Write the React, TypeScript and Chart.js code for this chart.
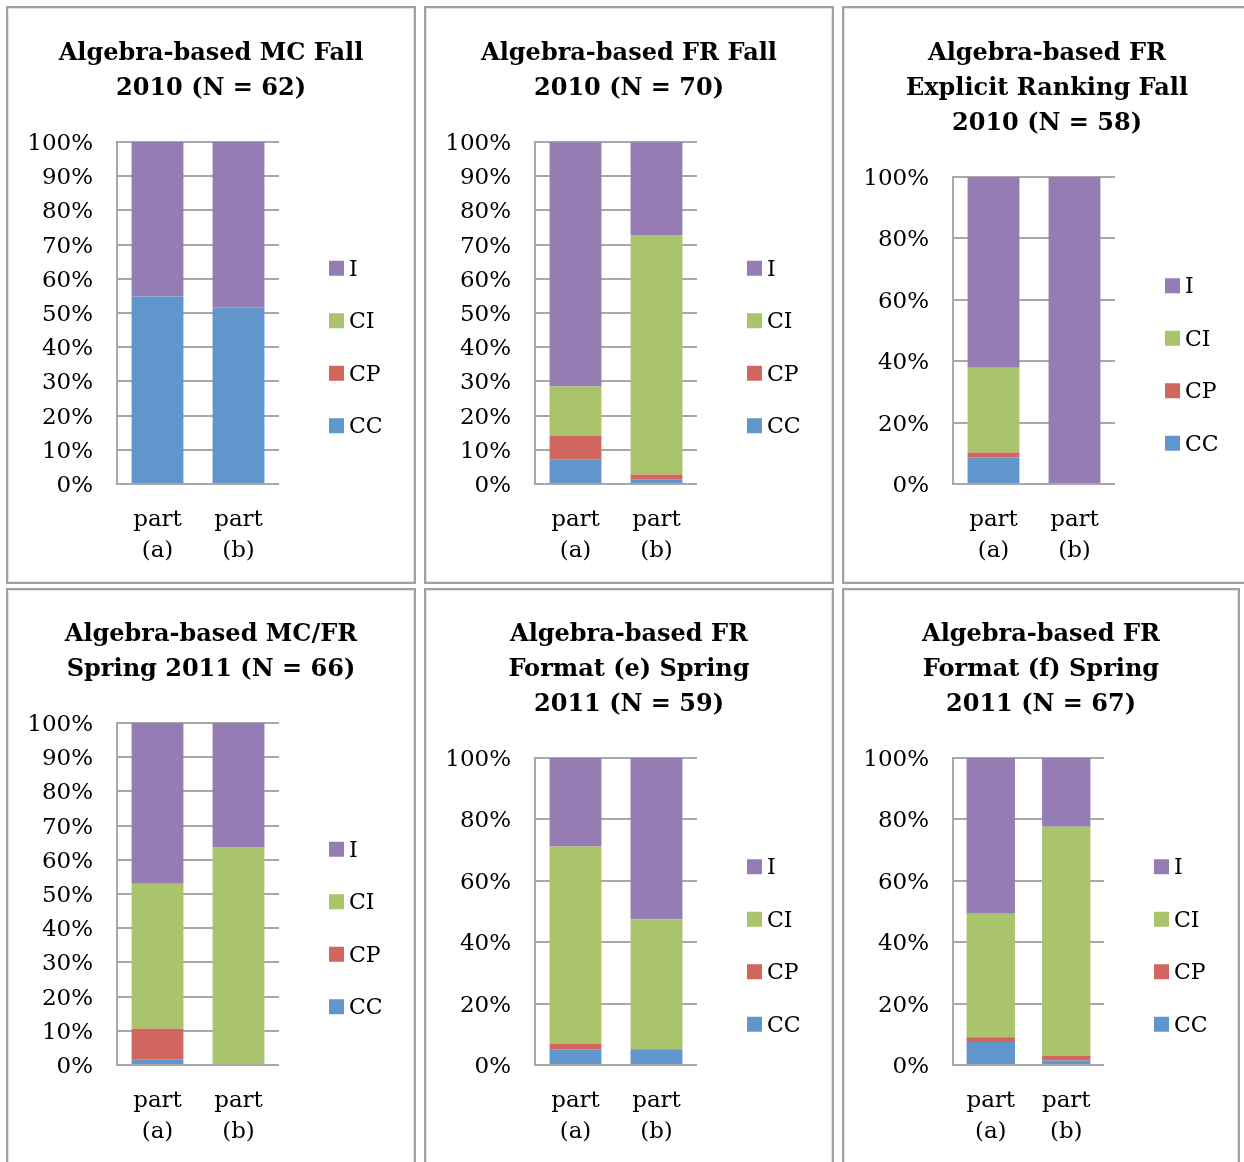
import React, { useEffect, useRef } from 'react';
import { Chart, registerables } from 'chart.js';

Chart.register(...registerables);

// ---- data ----
const categories = [['part', '(a)'], ['part', '(b)']];
const seriesNames = ['CC', 'CP', 'CI', 'I'];
const seriesColors = ['#6096CC', '#D0665E', '#A9C46B', '#957CB2'];

const panelTitles = [
  ['Algebra-based MC Fall', '2010 (N = 62)'],
  ['Algebra-based FR Fall', '2010 (N = 70)'],
  ['Algebra-based FR', 'Explicit Ranking Fall', '2010 (N = 58)'],
  ['Algebra-based MC/FR', 'Spring 2011 (N = 66)'],
  ['Algebra-based FR', 'Format (e) Spring', '2011 (N = 59)'],
  ['Algebra-based FR', 'Format (f) Spring', '2011 (N = 67)'],
];

// percentages per panel: [part (a), part (b)]
const ccValues = [[54.8, 51.6], [7.1, 1.4], [8.6, 0], [1.5, 0], [5.1, 5.1], [7.5, 1.5]];
const cpValues = [[0, 0], [7.1, 1.4], [1.7, 0], [9.1, 0], [1.7, 0], [1.5, 1.5]];
const ciValues = [[0, 0], [14.3, 70.0], [27.6, 0], [42.4, 63.6], [64.4, 42.4], [40.3, 74.6]];
const iValues = [[45.2, 48.4], [71.4, 27.1], [62.1, 100], [47.0, 36.4], [28.8, 52.5], [50.7, 22.4]];
const yStepSizes = [10, 10, 20, 10, 20, 20];

const FONT = '"DejaVu Serif", serif';

const excelLegend = {
  id: 'excelLegend',
  afterDraw(chart: any) {
    const { ctx, chartArea } = chart;
    const ds = chart.data.datasets;
    const n = ds.length;
    const spacing = 52.5;
    const box = 15;
    const cy = (chartArea.top + chartArea.bottom) / 2 + 34;
    const x = chartArea.right + 50;
    ctx.save();
    ctx.font = '22px ' + FONT;
    ctx.textBaseline = 'middle';
    ctx.textAlign = 'left';
    for (let k = 0; k < n; k++) {
      const d = ds[n - 1 - k];
      const y = cy + (k - (n - 1) / 2) * spacing;
      ctx.fillStyle = d.backgroundColor;
      ctx.fillRect(x, y - box / 2, box, box);
      ctx.fillStyle = '#000';
      ctx.fillText(d.label, x + 20, y + 2);
    }
    ctx.restore();
  },
};

type PanelProps = { index: number; left: number; top: number; width: number; height: number; row: number };

function Panel({ index, left, top, width, height, row }: PanelProps) {
  const ref = useRef<HTMLCanvasElement | null>(null);
  const cw = width - 4;
  const ch = height - 4;
  useEffect(() => {
    if (!ref.current) return;
    const seriesData = [ccValues[index], cpValues[index], ciValues[index], iValues[index]];
    const plotBottom = row === 0 ? 476 : 475;
    const titleTop = row === 0 ? 28.5 : 27.5;
    const plotRight = index === 5 ? 260 : 271;
    const chart = new Chart(ref.current, {
      type: 'bar',
      data: {
        labels: categories as any,
        datasets: seriesNames.map((name, k) => ({
          label: name,
          data: seriesData[k],
          backgroundColor: seriesColors[k],
          borderWidth: 0,
          categoryPercentage: 1,
          barPercentage: 0.64,
        })),
      },
      options: {
        responsive: false,
        animation: false,
        devicePixelRatio: 1,
        layout: { padding: 0 },
        plugins: {
          legend: { display: false },
          tooltip: { enabled: false },
          title: {
            display: true,
            text: panelTitles[index],
            color: '#000',
            font: { family: FONT, size: 24, weight: 'bold', lineHeight: '35px' },
            padding: { top: titleTop, bottom: 35.5 },
          },
        },
        scales: {
          x: {
            stacked: true,
            grid: { display: false },
            border: { display: false },
            ticks: {
              color: '#000',
              font: { family: FONT, size: 23, lineHeight: '31px' },
              padding: 12.5,
              maxRotation: 0,
              autoSkip: false,
            },
            afterFit: (scale: any) => {
              scale.height = ch - plotBottom;
            },
          },
          y: {
            stacked: true,
            min: 0,
            max: 100,
            grid: { color: '#a8a8a8', lineWidth: 2, drawTicks: false },
            border: { display: true, color: '#a8a8a8', width: 2 },
            ticks: {
              stepSize: yStepSizes[index],
              color: '#000',
              font: { family: FONT, size: 23 },
              padding: 24,
              labelOffset: 2,
              callback: (v: any) => v + '%',
            },
            afterFit: (scale: any) => {
              scale.width = 109;
            },
          },
          legendSpace: {
            type: 'linear',
            position: 'right',
            display: true,
            min: 0,
            max: 100,
            grid: { display: false, drawTicks: false },
            border: { display: false },
            ticks: { display: false },
            afterFit: (scale: any) => {
              scale.width = cw - plotRight;
            },
          },
        },
      },
      plugins: [excelLegend],
    });
    return () => chart.destroy();
  }, [index]);
  return (
    <div
      style={{
        position: 'absolute',
        left,
        top,
        width: width - 4,
        height: height - 4,
        border: '2px solid #a0a0a0',
        boxShadow: 'inset 0 0 0 1px #e4e4e4',
        background: '#fff',
      }}
    >
      <canvas ref={ref} width={cw} height={ch} style={{ display: 'block' }} />
    </div>
  );
}

const panelLefts = [6, 424, 842, 6, 424, 842];
const panelTops = [6, 6, 6, 588, 588, 588];
const panelWidths = [410, 410, 410, 410, 410, 398];

export default function App() {
  return (
    <div
      style={{
        position: 'absolute',
        left: 0,
        top: 0,
        width: 1244,
        height: 1162,
        overflow: 'hidden',
        background: '#fff',
      }}
    >
      {panelTitles.map((_, i) => (
        <Panel
          key={i}
          index={i}
          left={panelLefts[i]}
          top={panelTops[i]}
          width={panelWidths[i]}
          height={578}
          row={i < 3 ? 0 : 1}
        />
      ))}
    </div>
  );
}
